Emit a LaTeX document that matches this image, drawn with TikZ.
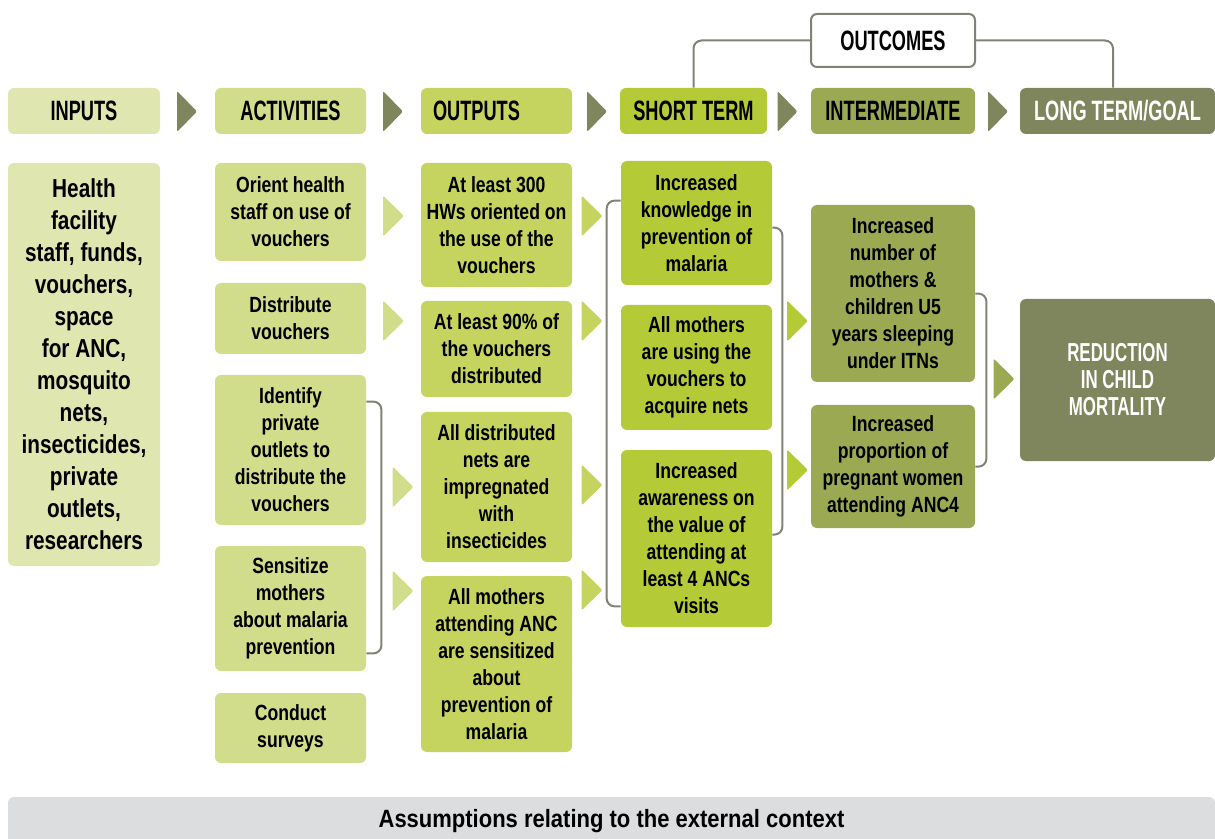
\documentclass[tikz,border=0pt]{standalone}
\usepackage{fontspec}
\setmainfont{Liberation Sans}[FakeStretch=0.8]
\newfontfamily\headfont{Liberation Sans}[FakeStretch=0.65]
\newfontfamily\notefont{Liberation Sans}[FakeStretch=0.88]
\usepackage{xcolor}
\usepackage{tikz}
\usetikzlibrary{calc}

\definecolor{inpc}{HTML}{DFE6AF}
\definecolor{actc}{HTML}{D1DD8B}
\definecolor{outc}{HTML}{C4D45E}
\definecolor{stc}{HTML}{B4CA36}
\definecolor{intc}{HTML}{9CA953}
\definecolor{goalc}{HTML}{7F855C}
\definecolor{linec}{HTML}{808374}
\definecolor{notec}{HTML}{DCDDDF}

\begin{document}
\begin{tikzpicture}[
    x=0.5pt, y=-0.5pt,
    box/.style={rectangle, rounded corners=3pt, inner sep=0pt, align=center, font=\bfseries\fontsize{11}{13.5}\selectfont},
    headbox/.style={box, minimum height=23pt, font=\headfont\bfseries\fontsize{14}{16}\selectfont},
    inbox/.style={box, fill=inpc, minimum width=76pt},
    actbox/.style={box, fill=actc, minimum width=75.5pt},
    outbox/.style={box, fill=outc, minimum width=75.5pt},
    stbox/.style={box, fill=stc, minimum width=75.5pt},
    intbox/.style={box, fill=intc, minimum width=82pt},
    goalbox/.style={box, fill=goalc, text=white, minimum width=97.5pt},
    bracket/.style={draw=linec, line width=1pt, rounded corners=4pt},
    marker/.style={rounded corners=1pt}
]
\useasboundingbox (0,0) rectangle (1215,839);

% Header row
\node[headbox, fill=inpc, minimum width=76pt] (hin) at (84,111) {INPUTS};
\node[headbox, fill=actc, minimum width=75.5pt] (hact) at (290.5,111) {ACTIVITIES};
\node[headbox, fill=outc, minimum width=75.5pt, text width=63.5pt, align=left] (hout) at (496.5,111) {OUTPUTS};
\node[headbox, fill=stc, minimum width=73.5pt] (hst) at (693.5,111) {SHORT TERM};
\node[headbox, fill=intc, minimum width=82pt] (hint) at (893,111) {INTERMEDIATE};
\node[headbox, fill=goalc, text=white, minimum width=97.5pt] (hgoal) at (1117.5,111) {LONG TERM/GOAL};
\node[headbox, fill=white, draw=linec, line width=1pt, minimum width=82pt, minimum height=26.5pt] (outcomes) at (893,40.5) {OUTCOMES};

% Inputs and activities
\node[inbox, minimum height=201.5pt, font=\bfseries\fontsize{13}{16}\selectfont] (inp) at (84,364.5) {Health\\facility\\staff, funds,\\vouchers,\\space\\for ANC,\\mosquito\\nets,\\insecticides,\\private\\outlets,\\researchers};
\node[actbox, minimum height=49pt] (act1) at (290.5,212) {Orient health\\staff on use of\\vouchers};
\node[actbox, minimum height=35.5pt] (act2) at (290.5,318.5) {Distribute\\vouchers};
\node[actbox, minimum height=75pt] (act3) at (290.5,450) {Identify\\private\\outlets to\\distribute the\\vouchers};
\node[actbox, minimum height=62.5pt] (act4) at (290.5,608.5) {Sensitize\\mothers\\about malaria\\prevention};
\node[actbox, minimum height=35pt] (act5) at (290.5,728) {Conduct\\surveys};

% Outputs
\node[outbox, minimum height=62pt] (out1) at (496.5,225) {At least 300\\HWs oriented on\\the use of the\\vouchers};
\node[outbox, minimum height=48pt] (out2) at (496.5,349) {At least 90\% of\\the vouchers\\distributed};
\node[outbox, minimum height=75pt] (out3) at (496.5,487) {All distributed\\nets are\\impregnated\\with\\insecticides};
\node[outbox, minimum height=88pt] (out4) at (496.5,664) {All mothers\\attending ANC\\are sensitized\\about\\prevention of\\malaria};

% Outcomes
\node[stbox, minimum height=62pt] (st1) at (696.5,223) {Increased\\knowledge in\\prevention of\\malaria};
\node[stbox, minimum height=62.5pt] (st2) at (696.5,367.5) {All mothers\\are using the\\vouchers to\\acquire nets};
\node[stbox, minimum height=88.5pt] (st3) at (696.5,538.5) {Increased\\awareness on\\the value of\\attending at\\least 4 ANCs\\visits};
\node[intbox, minimum height=88.5pt] (int1) at (893,293.5) {Increased\\number of\\mothers \&\\children U5\\years sleeping\\under ITNs};
\node[intbox, minimum height=61.5pt] (int2) at (893,466.5) {Increased\\proportion of\\pregnant women\\attending ANC4};
\node[goalbox, minimum height=81pt, font=\headfont\bfseries\fontsize{13}{13.5}\selectfont] (goal) at (1117.5,380) {REDUCTION\\IN CHILD\\MORTALITY};

% Assumptions
\node[box, fill=notec, minimum width=603.5pt, minimum height=24.5pt, font=\notefont\bfseries\fontsize{12.5}{14}\selectfont] (assump) at (611.5,821.5) {Assumptions relating to the external context};

% Markers
\foreach \tx/\ty in {187/111.5, 393/111.5, 597/111.5, 787.5/111.5, 998/111.5}
    \fill[marker, fill=goalc] (\tx,\ty) ++(-10,-20.5) -- ++(20,20.5) -- ++(-20,20.5) -- cycle;
\foreach \tx/\ty/\tc in {393.5/216/actc, 393.5/321/actc, 403/487/actc, 403/591/actc,
                         592/216/outc, 592/321/outc, 592/485/outc, 592/590/outc,
                         797.5/321/stc, 797.5/470/stc, 1004/379/intc}
    \fill[marker, fill=\tc] (\tx,\ty) ++(-10.5,-20.5) -- ++(21,20.5) -- ++(-21,20.5) -- cycle;

% Edges
\draw[bracket] (outcomes.west) -| (hst.north);
\draw[bracket] (outcomes.east) -| ([xshift=-2.25pt]hgoal.north);
\draw[bracket] ($(act3.north east)+(0,27)$) -- ++(15,0) |- ($(act4.south east)+(0,-18)$);
\draw[bracket] ($(st1.north west)+(0,40)$) -- ++(-14,0) |- ($(st3.south west)+(0,-21)$);
\draw[bracket] ($(st1.north east)+(0,67)$) -- ++(10,0) |- ($(st3.north east)+(0,85)$);
\draw[bracket] ($(int1.north east)+(0,89)$) -- ++(11,0) |- ($(int2.north east)+(0,62)$);

\end{tikzpicture}
\end{document}
